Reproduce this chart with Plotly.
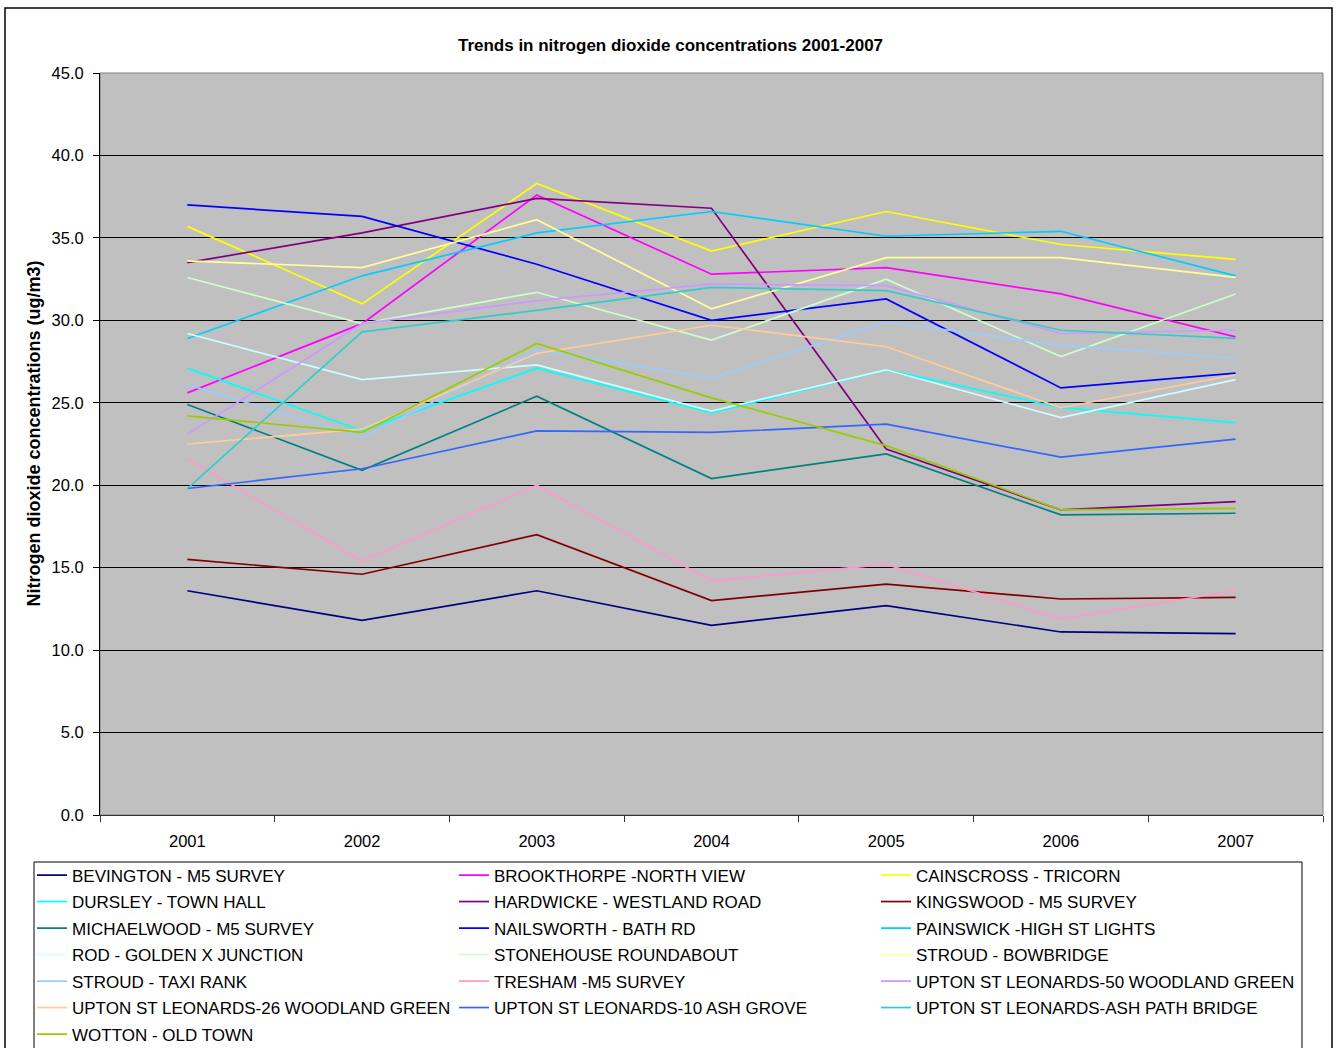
import plotly.graph_objects as go

# Annual mean NO2 concentrations (ug/m3) by monitoring site
YEARS = ["2001", "2002", "2003", "2004", "2005", "2006", "2007"]

BEVINGTON = [13.6, 11.8, 13.6, 11.5, 12.7, 11.1, 11.0]
BROOKTHORPE = [25.6, 29.8, 37.6, 32.8, 33.2, 31.6, 29.0]
CAINSCROSS = [35.7, 31.0, 38.3, 34.2, 36.6, 34.6, 33.7]
DURSLEY = [27.1, 23.3, 27.1, 24.4, 27.0, 24.7, 23.8]
HARDWICKE = [33.5, 35.3, 37.4, 36.8, 22.2, 18.5, 19.0]
KINGSWOOD = [15.5, 14.6, 17.0, 13.0, 14.0, 13.1, 13.2]
MICHAELWOOD = [24.9, 20.9, 25.4, 20.4, 21.9, 18.2, 18.3]
NAILSWORTH = [37.0, 36.3, 33.4, 30.0, 31.3, 25.9, 26.8]
PAINSWICK = [28.9, 32.7, 35.3, 36.6, 35.1, 35.4, 32.7]
ROD = [29.2, 26.4, 27.3, 24.5, 27.0, 24.1, 26.4]
STONEHOUSE = [32.6, 29.8, 31.7, 28.8, 32.5, 27.8, 31.6]
STROUD_BOWBRIDGE = [33.6, 33.2, 36.1, 30.7, 33.8, 33.8, 32.6]
STROUD_TAXI = [26.1, 22.9, 28.2, 26.5, 29.9, 28.5, 27.7]
TRESHAM = [21.6, 15.4, 20.0, 14.2, 15.2, 11.9, 13.6]
UPTON_50 = [23.1, 29.8, 31.2, 32.2, 32.1, 29.2, 29.4]
UPTON_26 = [22.5, 23.4, 28.0, 29.7, 28.4, 24.7, 26.7]
UPTON_10 = [19.8, 21.0, 23.3, 23.2, 23.7, 21.7, 22.8]
UPTON_ASH = [19.8, 29.3, 30.6, 32.0, 31.8, 29.4, 28.9]
WOTTON = [24.2, 23.2, 28.6, 25.3, 22.4, 18.5, 18.6]

SITES = [
    "BEVINGTON - M5 SURVEY",
    "BROOKTHORPE -NORTH VIEW",
    "CAINSCROSS - TRICORN",
    "DURSLEY - TOWN HALL",
    "HARDWICKE - WESTLAND ROAD",
    "KINGSWOOD - M5 SURVEY",
    "MICHAELWOOD - M5 SURVEY",
    "NAILSWORTH - BATH RD",
    "PAINSWICK -HIGH ST LIGHTS",
    "ROD - GOLDEN X JUNCTION",
    "STONEHOUSE ROUNDABOUT",
    "STROUD - BOWBRIDGE",
    "STROUD - TAXI RANK",
    "TRESHAM -M5 SURVEY",
    "UPTON ST LEONARDS-50 WOODLAND GREEN",
    "UPTON ST LEONARDS-26 WOODLAND GREEN",
    "UPTON ST LEONARDS-10 ASH GROVE",
    "UPTON ST LEONARDS-ASH PATH BRIDGE",
    "WOTTON - OLD TOWN",
]
SERIES = [
    BEVINGTON, BROOKTHORPE, CAINSCROSS, DURSLEY, HARDWICKE, KINGSWOOD,
    MICHAELWOOD, NAILSWORTH, PAINSWICK, ROD, STONEHOUSE, STROUD_BOWBRIDGE,
    STROUD_TAXI, TRESHAM, UPTON_50, UPTON_26, UPTON_10, UPTON_ASH, WOTTON,
]
COLORS = [
    "#000080", "#FF00FF", "#FFFF00", "#00FFFF", "#800080", "#800000",
    "#008080", "#0000FF", "#00CCFF", "#CCFFFF", "#CCFFCC", "#FFFF99",
    "#99CCFF", "#FF99CC", "#CC99FF", "#FFCC99", "#3366FF", "#33CCCC",
    "#99CC00",
]

FONT = "Arial, Liberation Sans, sans-serif"
W, H = 1341, 1048
ML, MR, MT, MB = 100, 18, 73, 233
PW, PH = W - ML - MR, H - MT - MB


def paper_x(px):
    return (px - ML) / PW


def paper_y(py):
    return (H - MB - py) / PH


fig = go.Figure()

# legend grid: three columns, rows of entries under the plot
COL_TEXT_X = [72, 494, 916]
ROW0_Y, ROW_STEP = 876, 26.5
legend_layouts = {}
for i, (name, vals, col) in enumerate(zip(SITES, SERIES, COLORS)):
    lid = "legend" if i == 0 else f"legend{i + 1}"
    fig.add_trace(go.Scatter(
        x=YEARS, y=vals, name=name, mode="lines",
        line=dict(color=col, width=1.7),
        legend=lid, showlegend=True,
    ))
    r, c = divmod(i, 3)
    cy = ROW0_Y + r * ROW_STEP
    legend_layouts[lid] = dict(
        x=paper_x(COL_TEXT_X[c] - 40), xanchor="left",
        y=paper_y(cy - 18.5), yanchor="top",
        bgcolor="rgba(0,0,0,0)", borderwidth=0,
        font=dict(family=FONT, size=17, color="#000"),
        itemwidth=30,
    )

fig.update_layout(
    width=W, height=H,
    margin=dict(l=ML, r=MR, t=MT, b=MB, autoexpand=False),
    paper_bgcolor="white", plot_bgcolor="#C0C0C0",
    font=dict(family=FONT, size=16, color="#000"),
    title=dict(
        text="Trends in nitrogen dioxide concentrations 2001-2007",
        font=dict(family=FONT, size=17, color="#000", weight="bold"),
        x=0.5, xref="container", xanchor="center",
        y=1 - 45 / H, yref="container", yanchor="middle",
    ),
    xaxis=dict(
        type="category", categoryorder="array", categoryarray=YEARS,
        range=[-0.5, len(YEARS) - 0.5],
        tickson="boundaries", ticks="outside", ticklen=6, tickcolor="#333",
        showline=True, linecolor="#333", linewidth=1,
        showgrid=False, zeroline=False,
        tickfont=dict(family=FONT, size=16.5, color="#000"),
        ticklabelstandoff=11,
    ),
    yaxis=dict(
        range=[0, 45], dtick=5, tick0=0, tickformat=".1f",
        ticks="outside", ticklen=6, tickcolor="#000",
        showline=True, linecolor="#000", linewidth=1,
        showgrid=True, gridcolor="#000", gridwidth=1, zeroline=False,
        tickfont=dict(family=FONT, size=16.5, color="#000"),
        ticklabelstandoff=6,
    ),
    showlegend=True,
    **legend_layouts,
)

# y-axis title
fig.add_annotation(
    text="Nitrogen dioxide concentrations (ug/m3)",
    textangle=-90, showarrow=False,
    xref="paper", yref="paper",
    x=paper_x(34), y=paper_y(433.5), xanchor="center", yanchor="middle",
    font=dict(family=FONT, size=18, color="#000", weight="bold"),
)

# plot area frame, legend frame and outer chart frame
fig.add_shape(type="rect", xref="paper", yref="paper",
              x0=0, x1=1, y0=0, y1=1,
              line=dict(color="#808080", width=1), layer="below")
fig.add_shape(type="rect", xref="paper", yref="paper",
              x0=paper_x(34), x1=paper_x(1302),
              y0=paper_y(1070), y1=paper_y(862),
              line=dict(color="#000", width=1))
fig.add_shape(type="rect", xref="paper", yref="paper",
              x0=paper_x(5), x1=paper_x(1332),
              y0=paper_y(1070), y1=paper_y(8),
              line=dict(color="#000", width=1.5))

fig.write_html("out.html")
